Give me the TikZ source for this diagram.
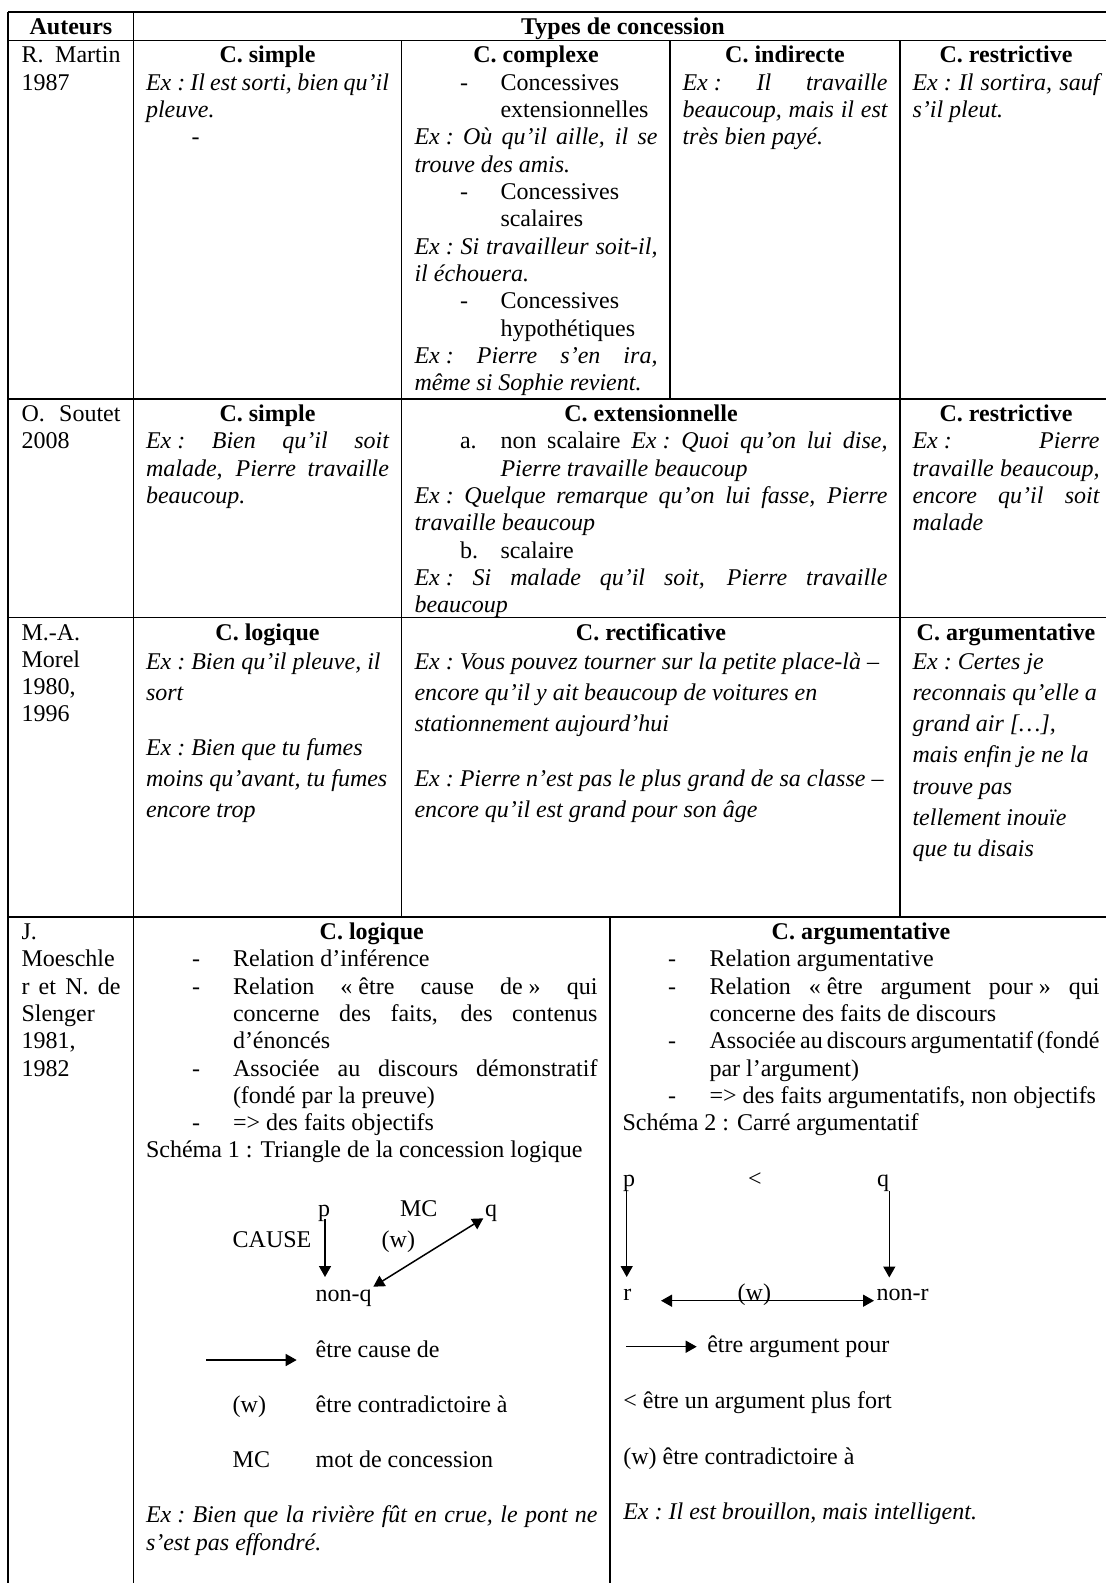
\documentclass[tikz,border=0pt]{standalone}
\usepackage{fontspec}
\setmainfont{Liberation Serif}
\usetikzlibrary{arrows.meta}
\setlength{\parindent}{0pt}
\newcounter{tline}
\newcommand\Ex{\mbox{Ex :}}
\newcommand\TxL[3]{\stepcounter{tline}\node[txt,anchor=base west] (t\arabic{tline}) at (#1,#2) {#3};}
\newcommand\TxC[3]{\stepcounter{tline}\node[txt,anchor=base] (t\arabic{tline}) at (#1,#2) {#3};}
\newcommand\TxJ[4]{\stepcounter{tline}\node[txt,anchor=base west] (t\arabic{tline}) at (#1,#2) {\makebox[\dimexpr(#3pt-#1pt)/2\relax][s]{#4}};}
\tikzset{
  txt/.style={inner sep=0pt,outer sep=0pt,font=\fontsize{12}{13.65}\selectfont},
  grid/.style={line width=0.6pt,black},
  arr/.style={line width=0.75pt,-{Triangle[length=5.5pt,width=6pt]}},
  darr/.style={line width=0.75pt,{Triangle[length=5.5pt,width=6pt]}-{Triangle[length=5.5pt,width=6pt]}}
}
\begin{document}
\begin{tikzpicture}[x=0.5pt,y=-0.5pt]
\useasboundingbox (0,0) rectangle (1106,1583);
% ---------- grid ----------
\draw[grid] (8,12) -- (1106,12);
\draw[grid] (8,40.7) -- (1106,40.7);
\draw[grid] (8,399) -- (1106,399);
\draw[grid] (8,617.3) -- (1106,617.3);
\draw[grid] (8,917) -- (1106,917);
\draw[grid] (8,12) -- (8,1583);
\draw[grid] (133.5,12) -- (133.5,1583);
\draw[grid] (401.8,40.7) -- (401.8,917);
\draw[grid] (670,40.7) -- (670,399);
\draw[grid] (900,40.7) -- (900,917);
\draw[grid] (610,917) -- (610,1583);
% ---------- header ----------
\TxC{71}{34.3}{\bfseries Auteurs}
\TxC{623}{34.3}{\bfseries Types de concession}
% ---------- row 1 ----------
\TxJ{21.5}{63}{120.5}{R. Martin}
\TxL{21.5}{90.3}{1987}
\TxC{267.5}{63}{\bfseries C. simple}
\TxJ{146}{90.3}{389}{\itshape \Ex{} Il est sorti, bien qu’il}
\TxL{146}{117.6}{\itshape pleuve.}
\TxL{191.7}{144.9}{-}
\TxC{536}{63}{\bfseries C. complexe}
\TxL{460}{90.3}{-}
\TxL{500.5}{90.3}{Concessives}
\TxL{500.5}{117.6}{extensionnelles}
\TxJ{414.5}{144.9}{657.5}{\itshape \Ex{} Où qu’il aille, il se}
\TxL{414.5}{172.2}{\itshape trouve des amis.}
\TxL{460}{199.5}{-}
\TxL{500.5}{199.5}{Concessives}
\TxL{500.5}{226.8}{scalaires}
\TxJ{414.5}{254.1}{657.5}{\itshape \Ex{} Si travailleur soit-il,}
\TxL{414.5}{281.4}{\itshape il échouera.}
\TxL{460}{308.7}{-}
\TxL{500.5}{308.7}{Concessives}
\TxL{500.5}{336}{hypothétiques}
\TxJ{414.5}{363.3}{657.5}{\itshape \Ex{} Pierre s’en ira,}
\TxL{414.5}{390.6}{\itshape même si Sophie revient.}
\TxC{785}{63}{\bfseries C. indirecte}
\TxJ{682.5}{90.3}{887.5}{\itshape \Ex{} Il travaille}
\TxJ{682.5}{117.6}{887.5}{\itshape beaucoup, mais il est}
\TxL{682.5}{144.9}{\itshape très bien payé.}
\TxC{1006}{63}{\bfseries C. restrictive}
\TxJ{912.5}{90.3}{1099.5}{\itshape \Ex{} Il sortira, sauf}
\TxL{912.5}{117.6}{\itshape s’il pleut.}
% ---------- row 2 ----------
\TxJ{21.5}{421.5}{120.5}{O. Soutet}
\TxL{21.5}{448.8}{2008}
\TxC{267.5}{421.5}{\bfseries C. simple}
\TxJ{146}{448.8}{389}{\itshape \Ex{} Bien qu’il soit}
\TxJ{146}{476.1}{389}{\itshape malade, Pierre travaille}
\TxL{146}{503.4}{\itshape beaucoup.}
\TxC{651}{421.5}{\bfseries C. extensionnelle}
\TxL{460}{448.8}{a.}
\TxJ{500.5}{448.8}{887.5}{non scalaire \textit{\Ex{} Quoi qu’on lui dise,}}
\TxL{500.5}{476.1}{\itshape Pierre travaille beaucoup}
\TxJ{414.5}{503.4}{887.5}{\itshape \Ex{} Quelque remarque qu’on lui fasse, Pierre}
\TxL{414.5}{530.7}{\itshape travaille beaucoup}
\TxL{460}{558}{b.}
\TxL{500.5}{558}{scalaire}
\TxJ{414.5}{585.3}{887.5}{\itshape \Ex{} Si malade qu’il soit, Pierre travaille}
\TxL{414.5}{612.6}{\itshape beaucoup}
\TxC{1006}{421.5}{\bfseries C. restrictive}
\TxJ{912.5}{448.8}{1099.5}{\itshape \Ex{} Pierre}
\TxJ{912.5}{476.1}{1099.5}{\itshape travaille beaucoup,}
\TxJ{912.5}{503.4}{1099.5}{\itshape encore qu’il soit}
\TxL{912.5}{530.7}{\itshape malade}
% ---------- row 3 ----------
\TxL{21.5}{640}{M.-A.}
\TxL{21.5}{667.3}{Morel}
\TxL{21.5}{694.6}{1980,}
\TxL{21.5}{721.9}{1996}
\TxC{267.5}{640}{\bfseries C. logique}
\TxL{146}{669}{\itshape \Ex{} Bien qu’il pleuve, il}
\TxL{146}{700.3}{\itshape sort}
\TxL{146}{755}{\itshape \Ex{} Bien que tu fumes}
\TxL{146}{786.3}{\itshape moins qu’avant, tu fumes}
\TxL{146}{817.6}{\itshape encore trop}
\TxC{651}{640}{\bfseries C. rectificative}
\TxL{414.5}{669}{\itshape \Ex{} Vous pouvez tourner sur la petite place-là –}
\TxL{414.5}{700.3}{\itshape encore qu’il y ait beaucoup de voitures en}
\TxL{414.5}{731.6}{\itshape stationnement aujourd’hui}
\TxL{414.5}{786.3}{\itshape \Ex{} Pierre n’est pas le plus grand de sa classe –}
\TxL{414.5}{817.6}{\itshape encore qu’il est grand pour son âge}
\TxC{1006}{640}{\bfseries C. argumentative}
\TxL{912.5}{669}{\itshape \Ex{} Certes je}
\TxL{912.5}{700.3}{\itshape reconnais qu’elle a}
\TxL{912.5}{731.6}{\itshape grand air […],}
\TxL{912.5}{762.9}{\itshape mais enfin je ne la}
\TxL{912.5}{794.2}{\itshape trouve pas}
\TxL{912.5}{825.5}{\itshape tellement inouïe}
\TxL{912.5}{856.8}{\itshape que tu disais}
% ---------- row 4 ----------
\TxL{21.5}{939.5}{J.}
\TxL{21.5}{966.8}{Moeschle}
\TxJ{21.5}{994.1}{120.5}{r et N. de}
\TxL{21.5}{1021.4}{Slenger}
\TxL{21.5}{1048.7}{1981,}
\TxL{21.5}{1076}{1982}
\TxC{371.75}{939.5}{\bfseries C. logique}
\TxL{192}{966.8}{-}
\TxL{233}{966.8}{Relation d’inférence}
\TxL{192}{994.1}{-}
\TxJ{233}{994.1}{597.5}{Relation \mbox{« être} cause \mbox{de »} qui}
\TxJ{233}{1021.4}{597.5}{concerne des faits, des contenus}
\TxL{233}{1048.7}{d’énoncés}
\TxL{192}{1076}{-}
\TxJ{233}{1076}{597.5}{Associée au discours démonstratif}
\TxL{233}{1103.3}{(fondé par la preuve)}
\TxL{192}{1130.6}{-}
\TxL{233}{1130.6}{=> des faits objectifs}
\TxL{146}{1157.9}{Schéma 1 : Triangle de la concession logique}
\TxC{861}{939.5}{\bfseries C. argumentative}
\TxL{668}{966.8}{-}
\TxL{709.5}{966.8}{Relation argumentative}
\TxL{668}{994.1}{-}
\TxJ{709.5}{994.1}{1099.5}{Relation \mbox{« être} argument \mbox{pour »} qui}
\TxL{709.5}{1021.4}{concerne des faits de discours}
\TxL{668}{1048.7}{-}
\TxJ{709.5}{1048.7}{1099.5}{Associée au discours argumentatif (fondé}
\TxL{709.5}{1076}{par l’argument)}
\TxL{668}{1103.3}{-}
\TxL{709.5}{1103.3}{=> des faits argumentatifs, non objectifs}
\TxL{622.5}{1130.6}{Schéma 2 : Carré argumentatif}
% ---------- schema 1 ----------
\node[txt,anchor=base west] (p1) at (318,1216) {p};
\node[txt,anchor=base west] (mc1) at (400,1216) {MC};
\node[txt,anchor=base west] (q1) at (485,1216) {q};
\node[txt,anchor=base west] (cause1) at (232.7,1247.5) {CAUSE};
\node[txt,anchor=base west] (w1) at (381.7,1247.5) {(w)};
\node[txt,anchor=base west] (nq1) at (315.7,1301.5) {non-q};
\coordinate (a1s) at (325,1219);
\coordinate (a1e) at (325,1277);
\draw[arr] (a1s) -- (a1e);
\coordinate (b1s) at (373.3,1286.7);
\coordinate (b1e) at (483.3,1218.3);
\draw[darr] (b1s) -- (b1e);
\coordinate (l1s) at (206,1360);
\coordinate (l1e) at (296.7,1360);
\draw[arr] (l1s) -- (l1e);
\node[txt,anchor=base west] (lg1a) at (315.7,1357) {être cause de};
\node[txt,anchor=base west] (lg1b) at (232.7,1412) {(w)};
\node[txt,anchor=base west] (lg1c) at (315.7,1412) {être contradictoire à};
\node[txt,anchor=base west] (lg1d) at (232.7,1467) {MC};
\node[txt,anchor=base west] (lg1e) at (315.7,1467) {mot de concession};
\TxJ{146}{1522.5}{597.5}{\itshape \Ex{} Bien que la rivière fût en crue, le pont ne}
\TxL{146}{1550}{\itshape s’est pas effondré.}
% ---------- schema 2 ----------
\node[txt,anchor=base west] (p2) at (623,1186) {p};
\node[txt,anchor=base west] (lt2) at (748,1186) {<};
\node[txt,anchor=base west] (q2) at (877,1186) {q};
\node[txt,anchor=base west] (r2) at (623.3,1300) {r};
\node[txt,anchor=base west] (w2) at (737.7,1300) {(w)};
\node[txt,anchor=base west] (nr2) at (876.7,1300) {non-r};
\coordinate (a2s) at (626.7,1190);
\coordinate (a2e) at (626.7,1277);
\draw[arr] (a2s) -- (a2e);
\coordinate (c2s) at (889.3,1191);
\coordinate (c2e) at (889.3,1277.5);
\draw[arr] (c2s) -- (c2e);
\coordinate (b2s) at (661,1300.7);
\coordinate (b2e) at (874,1300.7);
\draw[darr] (b2s) -- (b2e);
\coordinate (l2s) at (626,1346.7);
\coordinate (l2e) at (696.7,1346.7);
\draw[arr] (l2s) -- (l2e);
\node[txt,anchor=base west] (lg2a) at (707.3,1352.5) {être argument pour};
\node[txt,anchor=base west] (lg2b) at (623.3,1408.5) {< être un argument plus fort};
\node[txt,anchor=base west] (lg2c) at (623.3,1464) {(w) être contradictoire à};
\node[txt,anchor=base west] (lg2d) at (623.3,1519.5) {\itshape \Ex{} Il est brouillon, mais intelligent.};
\end{tikzpicture}
\end{document}
